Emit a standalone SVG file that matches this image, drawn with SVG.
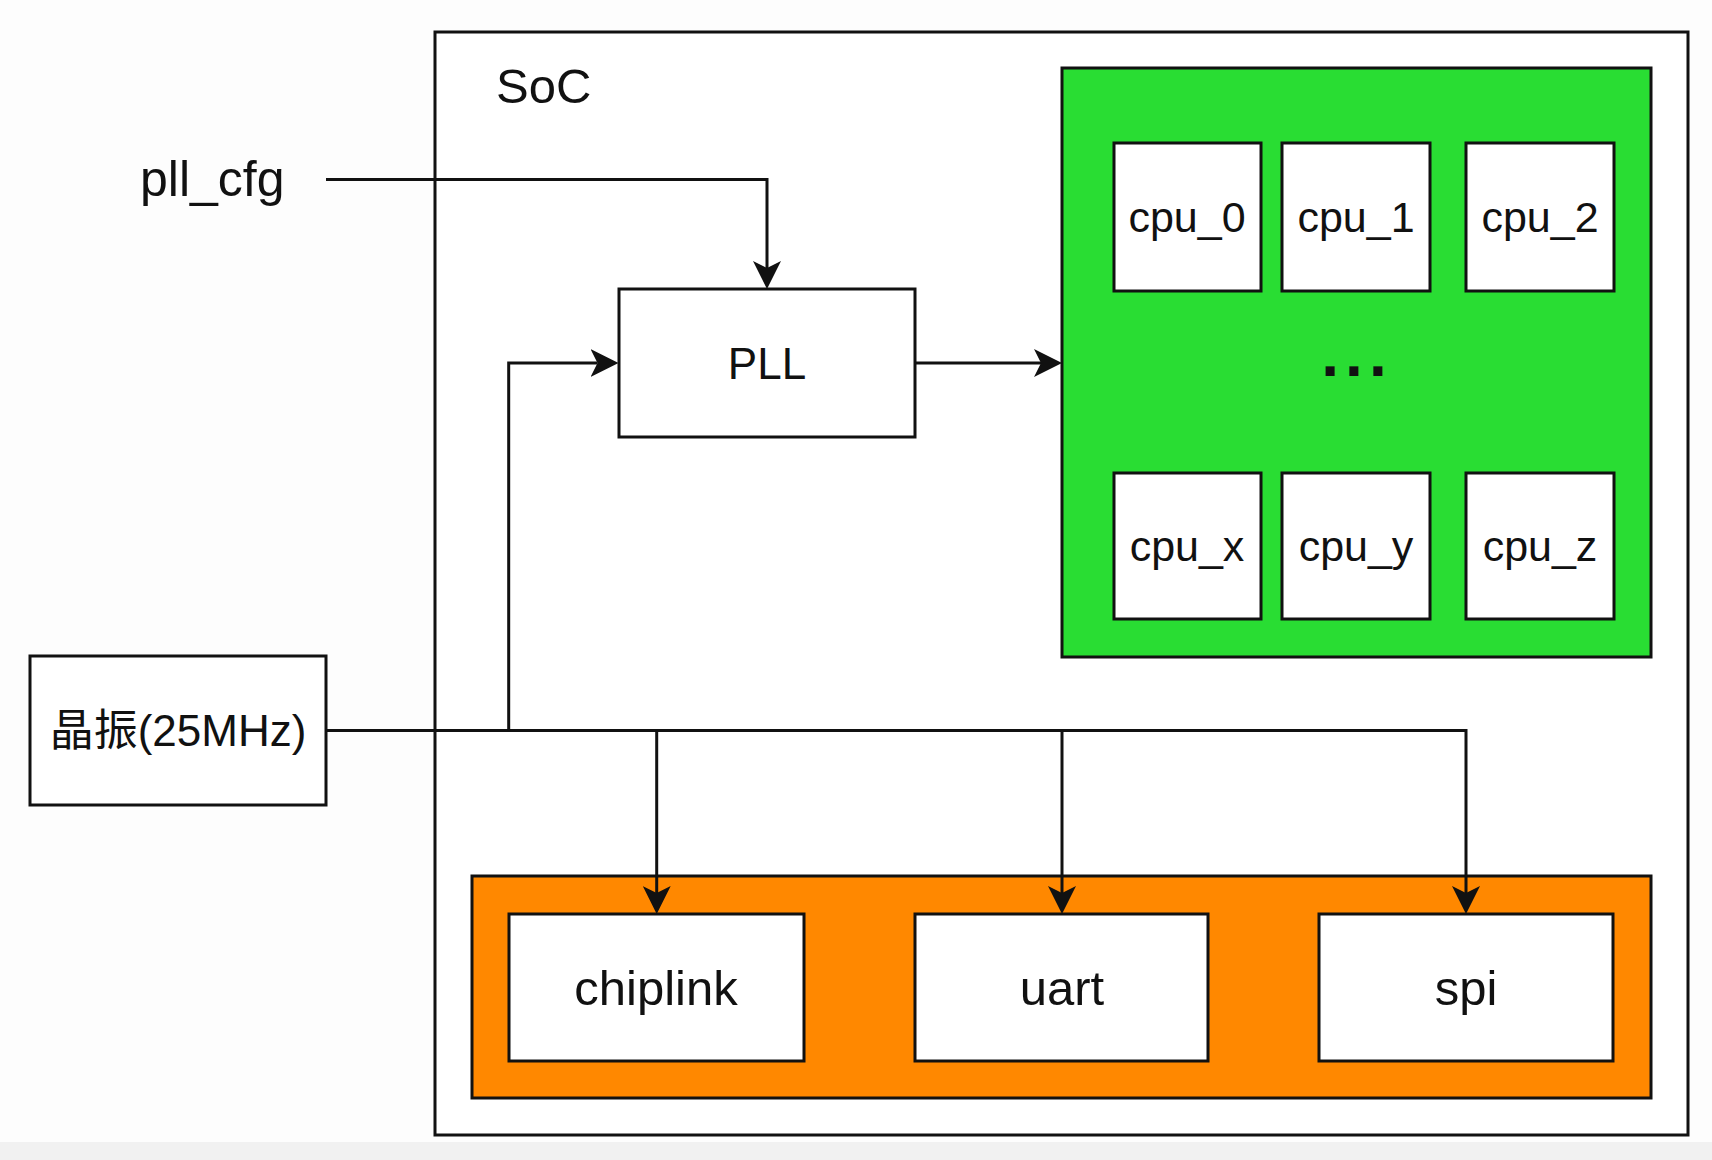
<svg xmlns="http://www.w3.org/2000/svg" width="1712" height="1160" viewBox="0 0 1712 1160">
<style>
text{font-family:"Liberation Sans",Arial,"Noto Sans CJK SC",sans-serif;fill:#111}
.box{fill:#fff;stroke:#111;stroke-width:3}
.c{text-anchor:middle}
.ln{fill:none;stroke:#111;stroke-width:3;marker-end:url(#ah)}
</style>
<defs>
<marker id="ah" viewBox="0 0 28 28" refX="7" refY="14" markerWidth="28" markerHeight="28" markerUnits="userSpaceOnUse" orient="auto">
<path d="M0,0 L28,14 L0,28 L7,14 Z" fill="#111"/>
</marker>
</defs>
<rect x="0" y="0" width="1712" height="1160" fill="#fdfdfd"/>
<rect x="0" y="1142" width="1712" height="18" fill="#f1f1f1"/>
<g id="soc">
<rect x="435" y="32" width="1253" height="1103" class="box"/>
<text x="496" y="103" font-size="49">SoC</text>
</g>
<g id="pll_cfg">
<text x="140" y="196" font-size="50">pll_cfg</text>
</g>
<g id="pll">
<rect x="619" y="289" width="296" height="148" class="box"/>
<text x="767" y="379" font-size="44" class="c">PLL</text>
</g>
<g id="cpu_cluster">
<rect x="1062" y="68" width="589" height="589" fill="#29dd33" stroke="#111" stroke-width="3"/>
<text x="1357" y="376" font-size="64" font-weight="bold" letter-spacing="6" class="c">...</text>
</g>
<g id="cpu_0"><rect x="1114" y="143" width="147" height="148" class="box"/><text x="1187" y="232" font-size="43" class="c">cpu_0</text></g>
<g id="cpu_1"><rect x="1282" y="143" width="148" height="148" class="box"/><text x="1356" y="232" font-size="43" class="c">cpu_1</text></g>
<g id="cpu_2"><rect x="1466" y="143" width="148" height="148" class="box"/><text x="1540" y="232" font-size="43" class="c">cpu_2</text></g>
<g id="cpu_x"><rect x="1114" y="473" width="147" height="146" class="box"/><text x="1187" y="561" font-size="43" class="c">cpu_x</text></g>
<g id="cpu_y"><rect x="1282" y="473" width="148" height="146" class="box"/><text x="1356" y="561" font-size="43" class="c">cpu_y</text></g>
<g id="cpu_z"><rect x="1466" y="473" width="148" height="146" class="box"/><text x="1540" y="561" font-size="43" class="c">cpu_z</text></g>
<g id="peripherals">
<rect x="472" y="876" width="1179" height="222" fill="#ff8800" stroke="#111" stroke-width="3"/>
</g>
<g id="chiplink"><rect x="509" y="914" width="295" height="147" class="box"/><text x="656" y="1005" font-size="49" class="c">chiplink</text></g>
<g id="uart"><rect x="915" y="914" width="293" height="147" class="box"/><text x="1062" y="1005" font-size="49" class="c">uart</text></g>
<g id="spi"><rect x="1319" y="914" width="294" height="147" class="box"/><text x="1466" y="1005" font-size="49" class="c">spi</text></g>
<g id="crystal">
<rect x="30" y="656" width="296" height="149" class="box"/>
<text x="178" y="746" font-size="44" class="c">晶振(25MHz)</text>
</g>
<g id="connectors">
<path class="ln" d="M326,179.5 H767 V268"/>
<path class="ln" d="M915,363 H1041"/>
<path class="ln" d="M326,730.5 H1466 V893"/>
<path class="ln" d="M508.7,730.5 V363 H597.5"/>
<path class="ln" d="M656.7,730.5 V893"/>
<path class="ln" d="M1062,730.5 V893"/>
</g>
</svg>
